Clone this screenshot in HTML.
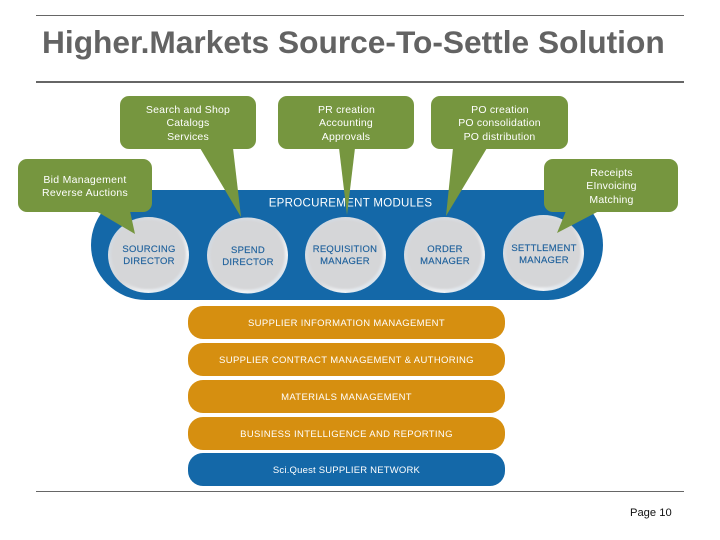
<!DOCTYPE html>
<html><head><meta charset="utf-8"><style>
html,body{margin:0;padding:0;background:#fff}
svg{display:block}
text{font-family:"Liberation Sans",sans-serif}
.c{font-size:10.5px;fill:#fff;text-anchor:middle;letter-spacing:.2px}
.m{font-size:9.5px;fill:#1f619c;text-anchor:middle;letter-spacing:.25px;stroke:#1f619c;stroke-width:.15px}
.b{font-size:9.5px;fill:#fff;text-anchor:middle;letter-spacing:.35px}
</style></head><body>
<svg width="720" height="540" viewBox="0 0 720 540" xmlns="http://www.w3.org/2000/svg">
<defs>
<linearGradient id="r" x1="0" y1="0" x2="1" y2="1">
<stop offset="0%" stop-color="#c5d3e0"/><stop offset="30%" stop-color="#d9dde2"/><stop offset="50%" stop-color="#d5d6d8"/><stop offset="72%" stop-color="#f2f4f6"/><stop offset="100%" stop-color="#bccfdf"/>
</linearGradient>
<filter id="s" x="-10%" y="-10%" width="120%" height="120%"><feGaussianBlur stdDeviation="1"/></filter>
</defs>
<rect x="36" y="15" width="648" height="1" fill="#666"/>
<rect x="36" y="81" width="648" height="2" fill="#666"/>
<rect x="36" y="491" width="648" height="1" fill="#666"/>
<text x="42" y="53" font-size="31.7" font-weight="700" fill="#636363">Higher.Markets Source-To-Settle Solution</text>

<rect x="91" y="190" width="512" height="110" rx="55" fill="#1468a8"/>
<text x="350.500" y="206.500" font-size="11.500" fill="#fff" text-anchor="middle" letter-spacing=".3">EPROCUREMENT MODULES</text>

<g>
<ellipse cx="148.500" cy="255" rx="40.500" ry="38" fill="url(#r)"/><ellipse cx="148.500" cy="254.500" rx="37.500" ry="35" fill="#d5d6d8" filter="url(#s)"/>
<ellipse cx="247.500" cy="255.500" rx="40.500" ry="38" fill="url(#r)"/><ellipse cx="247.500" cy="255" rx="37.500" ry="35" fill="#d5d6d8" filter="url(#s)"/>
<ellipse cx="345.500" cy="255" rx="40.500" ry="38" fill="url(#r)"/><ellipse cx="345.500" cy="254.500" rx="37.500" ry="35" fill="#d5d6d8" filter="url(#s)"/>
<ellipse cx="444.500" cy="255" rx="40.500" ry="38" fill="url(#r)"/><ellipse cx="444.500" cy="254.500" rx="37.500" ry="35" fill="#d5d6d8" filter="url(#s)"/>
<ellipse cx="543.500" cy="253" rx="40.500" ry="38" fill="url(#r)"/><ellipse cx="543.500" cy="252.500" rx="37.500" ry="35" fill="#d5d6d8" filter="url(#s)"/>
</g>

<text class="m" x="149" y="252">SOURCING</text><text class="m" x="149" y="264">DIRECTOR</text>
<text class="m" x="248" y="253">SPEND</text><text class="m" x="248" y="265">DIRECTOR</text>
<text class="m" x="345" y="252">REQUISITION</text><text class="m" x="345" y="264">MANAGER</text>
<text class="m" x="445" y="252">ORDER</text><text class="m" x="445" y="264">MANAGER</text>
<text class="m" x="544" y="251">SETTLEMENT</text><text class="m" x="544" y="263">MANAGER</text>

<g fill="#76963f">
<rect x="120" y="96" width="136" height="53" rx="9"/><path d="M200 148L241 217L233 148Z"/>
<rect x="278" y="96" width="136" height="53" rx="9"/><path d="M339 148L347 215L355 148Z"/>
<rect x="431" y="96" width="137" height="53" rx="9"/><path d="M453 148L446 216L487 148Z"/>
<rect x="18" y="159" width="134" height="53" rx="9"/><path d="M96 211L135 234L130 211Z"/>
<rect x="544" y="159" width="134" height="53" rx="9"/><path d="M566 211L557 233L599 211Z"/>
</g>
<text class="c" x="188" y="113">Search and Shop</text><text class="c" x="188" y="126">Catalogs</text><text class="c" x="188" y="140">Services</text>
<text class="c" x="346.500" y="113">PR creation</text><text class="c" x="346" y="126">Accounting</text><text class="c" x="346" y="140">Approvals</text>
<text class="c" x="500" y="113">PO creation</text><text class="c" x="499.500" y="126">PO consolidation</text><text class="c" x="499.500" y="140">PO distribution</text>
<text class="c" x="85" y="183" style="letter-spacing:.27px">Bid Management</text><text class="c" x="85" y="196" style="letter-spacing:.27px">Reverse Auctions</text>
<text class="c" x="611.500" y="176">Receipts</text><text class="c" x="611.500" y="189">EInvoicing</text><text class="c" x="611.500" y="203">Matching</text>

<rect x="188" y="306" width="317" height="33" rx="15" fill="#d68f10"/>
<rect x="188" y="343" width="317" height="33" rx="15" fill="#d68f10"/>
<rect x="188" y="380" width="317" height="33" rx="15" fill="#d68f10"/>
<rect x="188" y="417" width="317" height="33" rx="15" fill="#d68f10"/>
<rect x="188" y="453" width="317" height="33" rx="15" fill="#1468a8"/>
<text class="b" x="346.500" y="326">SUPPLIER INFORMATION MANAGEMENT</text>
<text class="b" x="346.500" y="363">SUPPLIER CONTRACT MANAGEMENT &amp; AUTHORING</text>
<text class="b" x="346.500" y="400">MATERIALS MANAGEMENT</text>
<text class="b" x="346.500" y="437">BUSINESS INTELLIGENCE AND REPORTING</text>
<text class="b" x="346.500" y="473" style="letter-spacing:.2px">Sci.Quest SUPPLIER NETWORK</text>

<text x="630" y="516" font-size="11.200" fill="#111">Page 10</text>
</svg>
</body></html>
